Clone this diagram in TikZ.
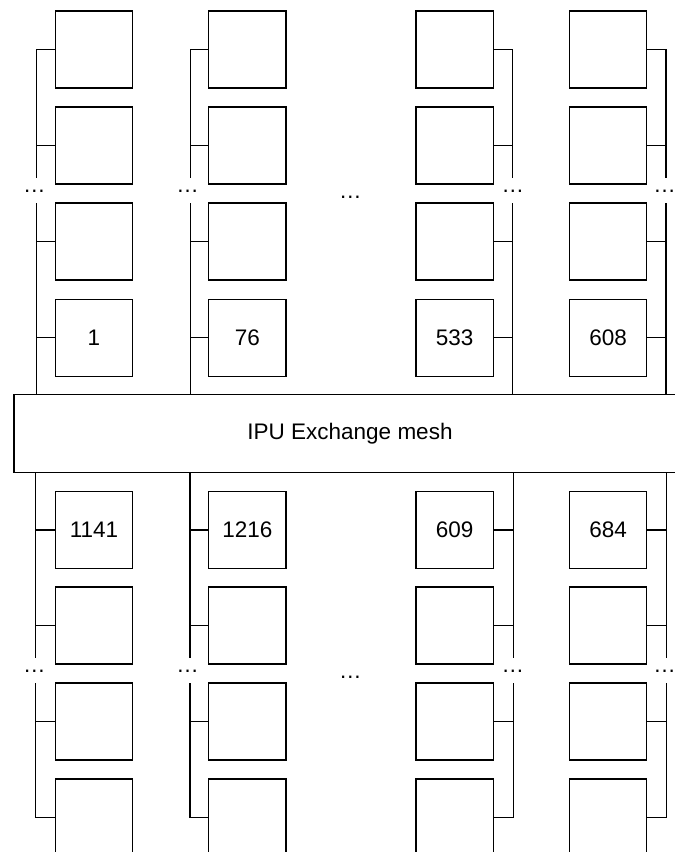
\documentclass[tikz,border=0pt]{standalone}
\usepackage{fontspec}
\setmainfont{Liberation Sans}
\begin{document}
\begin{tikzpicture}[x=1pt,y=-1pt,line width=1.3pt,
  tile/.style={draw,minimum width=77.4pt,minimum height=77pt,inner sep=0pt,font=\fontsize{22.5}{27}\selectfont},
  dotsl/.style={anchor=base,inner sep=0pt,font=\fontsize{22.5}{27}\selectfont},
  meshbox/.style={minimum width=670.6pt,minimum height=76.7pt,inner sep=0pt,font=\fontsize{22.5}{27}\selectfont}]
\useasboundingbox (0,0) rectangle (675,852);
\node[meshbox] (mesh) at (350,433.35) {IPU Exchange mesh};
\draw (mesh.north east) -- (mesh.north west) -- (mesh.south west) -- (mesh.south east);
\foreach \cc/\xx/\bx/\bbx/\sd/\dx/\ltop/\lbot in {
  1/94/36.6/35.8/west/34.3/1/1141,
  2/247.3/190.3/190/west/187.7/76/1216,
  3/454.7/512.6/513.8/east/512.9/533/609,
  4/608.1/666/666.3/east/664.6/608/684}
{
  % upper half
  \node[tile] (t\cc-a) at (\xx,49.5) {};
  \node[tile] (t\cc-b) at (\xx,145.5) {};
  \node[tile] (t\cc-c) at (\xx,241.5) {};
  \node[tile] (t\cc-d) at (\xx,337.7) {\ltop};
  \coordinate (tu\cc) at (\bx,177.7);
  \coordinate (tv\cc) at (\bx,203.3);
  \draw (t\cc-a.\sd) -| (tu\cc);
  \draw (t\cc-b.\sd) -- (t\cc-b.\sd -| tu\cc);
  \draw (tv\cc) -- (tv\cc |- mesh.north);
  \draw (t\cc-c.\sd) -- (t\cc-c.\sd -| tv\cc);
  \draw (t\cc-d.\sd) -- (t\cc-d.\sd -| tv\cc);
  \node[dotsl] (td\cc) at (\dx,192.8) {…};
  % lower half
  \node[tile] (b\cc-a) at (\xx,529.9) {\lbot};
  \node[tile] (b\cc-b) at (\xx,625.5) {};
  \node[tile] (b\cc-c) at (\xx,721.5) {};
  \node[tile] (b\cc-d) at (\xx,817.5) {};
  \coordinate (bu\cc) at (\bbx,657.7);
  \coordinate (bv\cc) at (\bbx,683.3);
  \draw (bu\cc |- mesh.south) -- (bu\cc);
  \draw (b\cc-a.\sd) -- (b\cc-a.\sd -| bu\cc);
  \draw (b\cc-b.\sd) -- (b\cc-b.\sd -| bu\cc);
  \draw (bv\cc) |- (b\cc-d.\sd);
  \draw (b\cc-c.\sd) -- (b\cc-c.\sd -| bv\cc);
  \node[dotsl] (bd\cc) at (\dx,672.8) {…};
}
\node[dotsl] (mdt) at (350.3,198.8) {…};
\node[dotsl] (mdb) at (350.3,678.8) {…};
\end{tikzpicture}
\end{document}
